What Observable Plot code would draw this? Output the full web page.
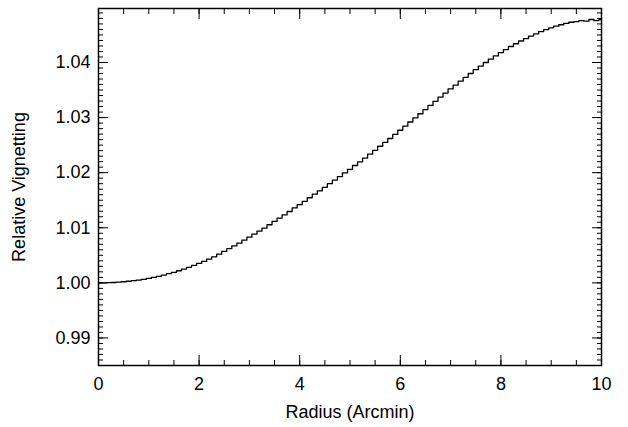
<!DOCTYPE html>
<html>
<head>
<meta charset="utf-8">
<script src="https://cdn.jsdelivr.net/npm/d3@7"></script>
<script src="https://cdn.jsdelivr.net/npm/@observablehq/plot@0.6"></script>
<style>
  body { margin: 0; background: #fff; }
  svg { font-family: "Liberation Sans", "DejaVu Sans", sans-serif; }
</style>
</head>
<body>
<div id="chart"></div>
<script>
// radius (arcmin), steps of 0.1
const radius = d3.range(0, 101).map(i => i / 10);
// (vignetting - 1) * 1000
const excess = [
  0.00, 0.01, 0.03, 0.07, 0.13, 0.20, 0.29, 0.39, 0.51, 0.65,
  0.80, 0.99, 1.19, 1.42, 1.66, 1.92, 2.20, 2.50, 2.82, 3.16,
  3.52, 3.90, 4.30, 4.72, 5.20, 5.70, 6.20, 6.70, 7.20, 7.75,
  8.30, 8.85, 9.40, 9.95, 10.55, 11.15, 11.75, 12.35, 12.95, 13.60,
  14.20, 14.80, 15.45, 16.10, 16.70, 17.35, 18.00, 18.65, 19.30, 19.95,
  20.60, 21.30, 21.95, 22.65, 23.35, 24.05, 24.80, 25.50, 26.20, 26.95,
  27.70, 28.45, 29.20, 29.95, 30.70, 31.45, 32.20, 32.95, 33.70, 34.45,
  35.20, 35.90, 36.60, 37.30, 38.00, 38.70, 39.35, 40.00, 40.60, 41.20,
  41.80, 42.35, 42.90, 43.40, 43.90, 44.35, 44.80, 45.20, 45.60, 45.95,
  46.30, 46.60, 46.85, 47.10, 47.30, 47.40, 47.60, 47.50, 47.80, 47.60,
  47.80
];
const xMajor = [0, 2, 4, 6, 8, 10];
const xMinor = d3.range(0, 21).map(i => i / 2);
const yMajor = [0.99, 1.00, 1.01, 1.02, 1.03, 1.04];
const yMinor = d3.range(0, 65).map(i => 0.985 + i / 1000);

const data = radius.map((r, i) => ({r, v: 1 + excess[i] / 1000}));

const chart = Plot.plot({
  width: 628, height: 427,
  marginLeft: 98, marginRight: 27, marginTop: 8, marginBottom: 62,
  style: {fontSize: "18px", color: "#000"},
  x: {domain: [0, 10]},
  y: {domain: [0.985, 1.0498]},
  marks: [
    Plot.axisX({ticks: xMinor, tickSize: -5, text: null, anchor: "bottom", label: null}),
    Plot.axisX({ticks: xMinor, tickSize: -5, text: null, anchor: "top", label: null}),
    Plot.axisX({ticks: xMajor, tickSize: -10, tickPadding: 22, anchor: "bottom",
      label: "Radius (Arcmin)", labelAnchor: "center", labelOffset: 52, labelArrow: "none"}),
    Plot.axisX({ticks: xMajor, tickSize: -10, text: null, anchor: "top", label: null}),
    Plot.axisY({ticks: yMinor, tickSize: -5, text: null, anchor: "left", label: null}),
    Plot.axisY({ticks: yMinor, tickSize: -5, text: null, anchor: "right", label: null}),
    Plot.axisY({ticks: yMajor, tickSize: -10, tickPadding: 18, anchor: "left", tickFormat: d3.format(".2f"),
      label: "Relative Vignetting", labelAnchor: "center", labelOffset: 86, labelArrow: "none"}),
    Plot.axisY({ticks: yMajor, tickSize: -10, text: null, anchor: "right", label: null}),
    Plot.frame({stroke: "#000", strokeWidth: 1.5}),
    Plot.line(data, {x: "r", y: "v", curve: "step", stroke: "#000", strokeWidth: 1.3})
  ]
});
d3.select("#chart").append(() => chart);
</script>
</body>
</html>
